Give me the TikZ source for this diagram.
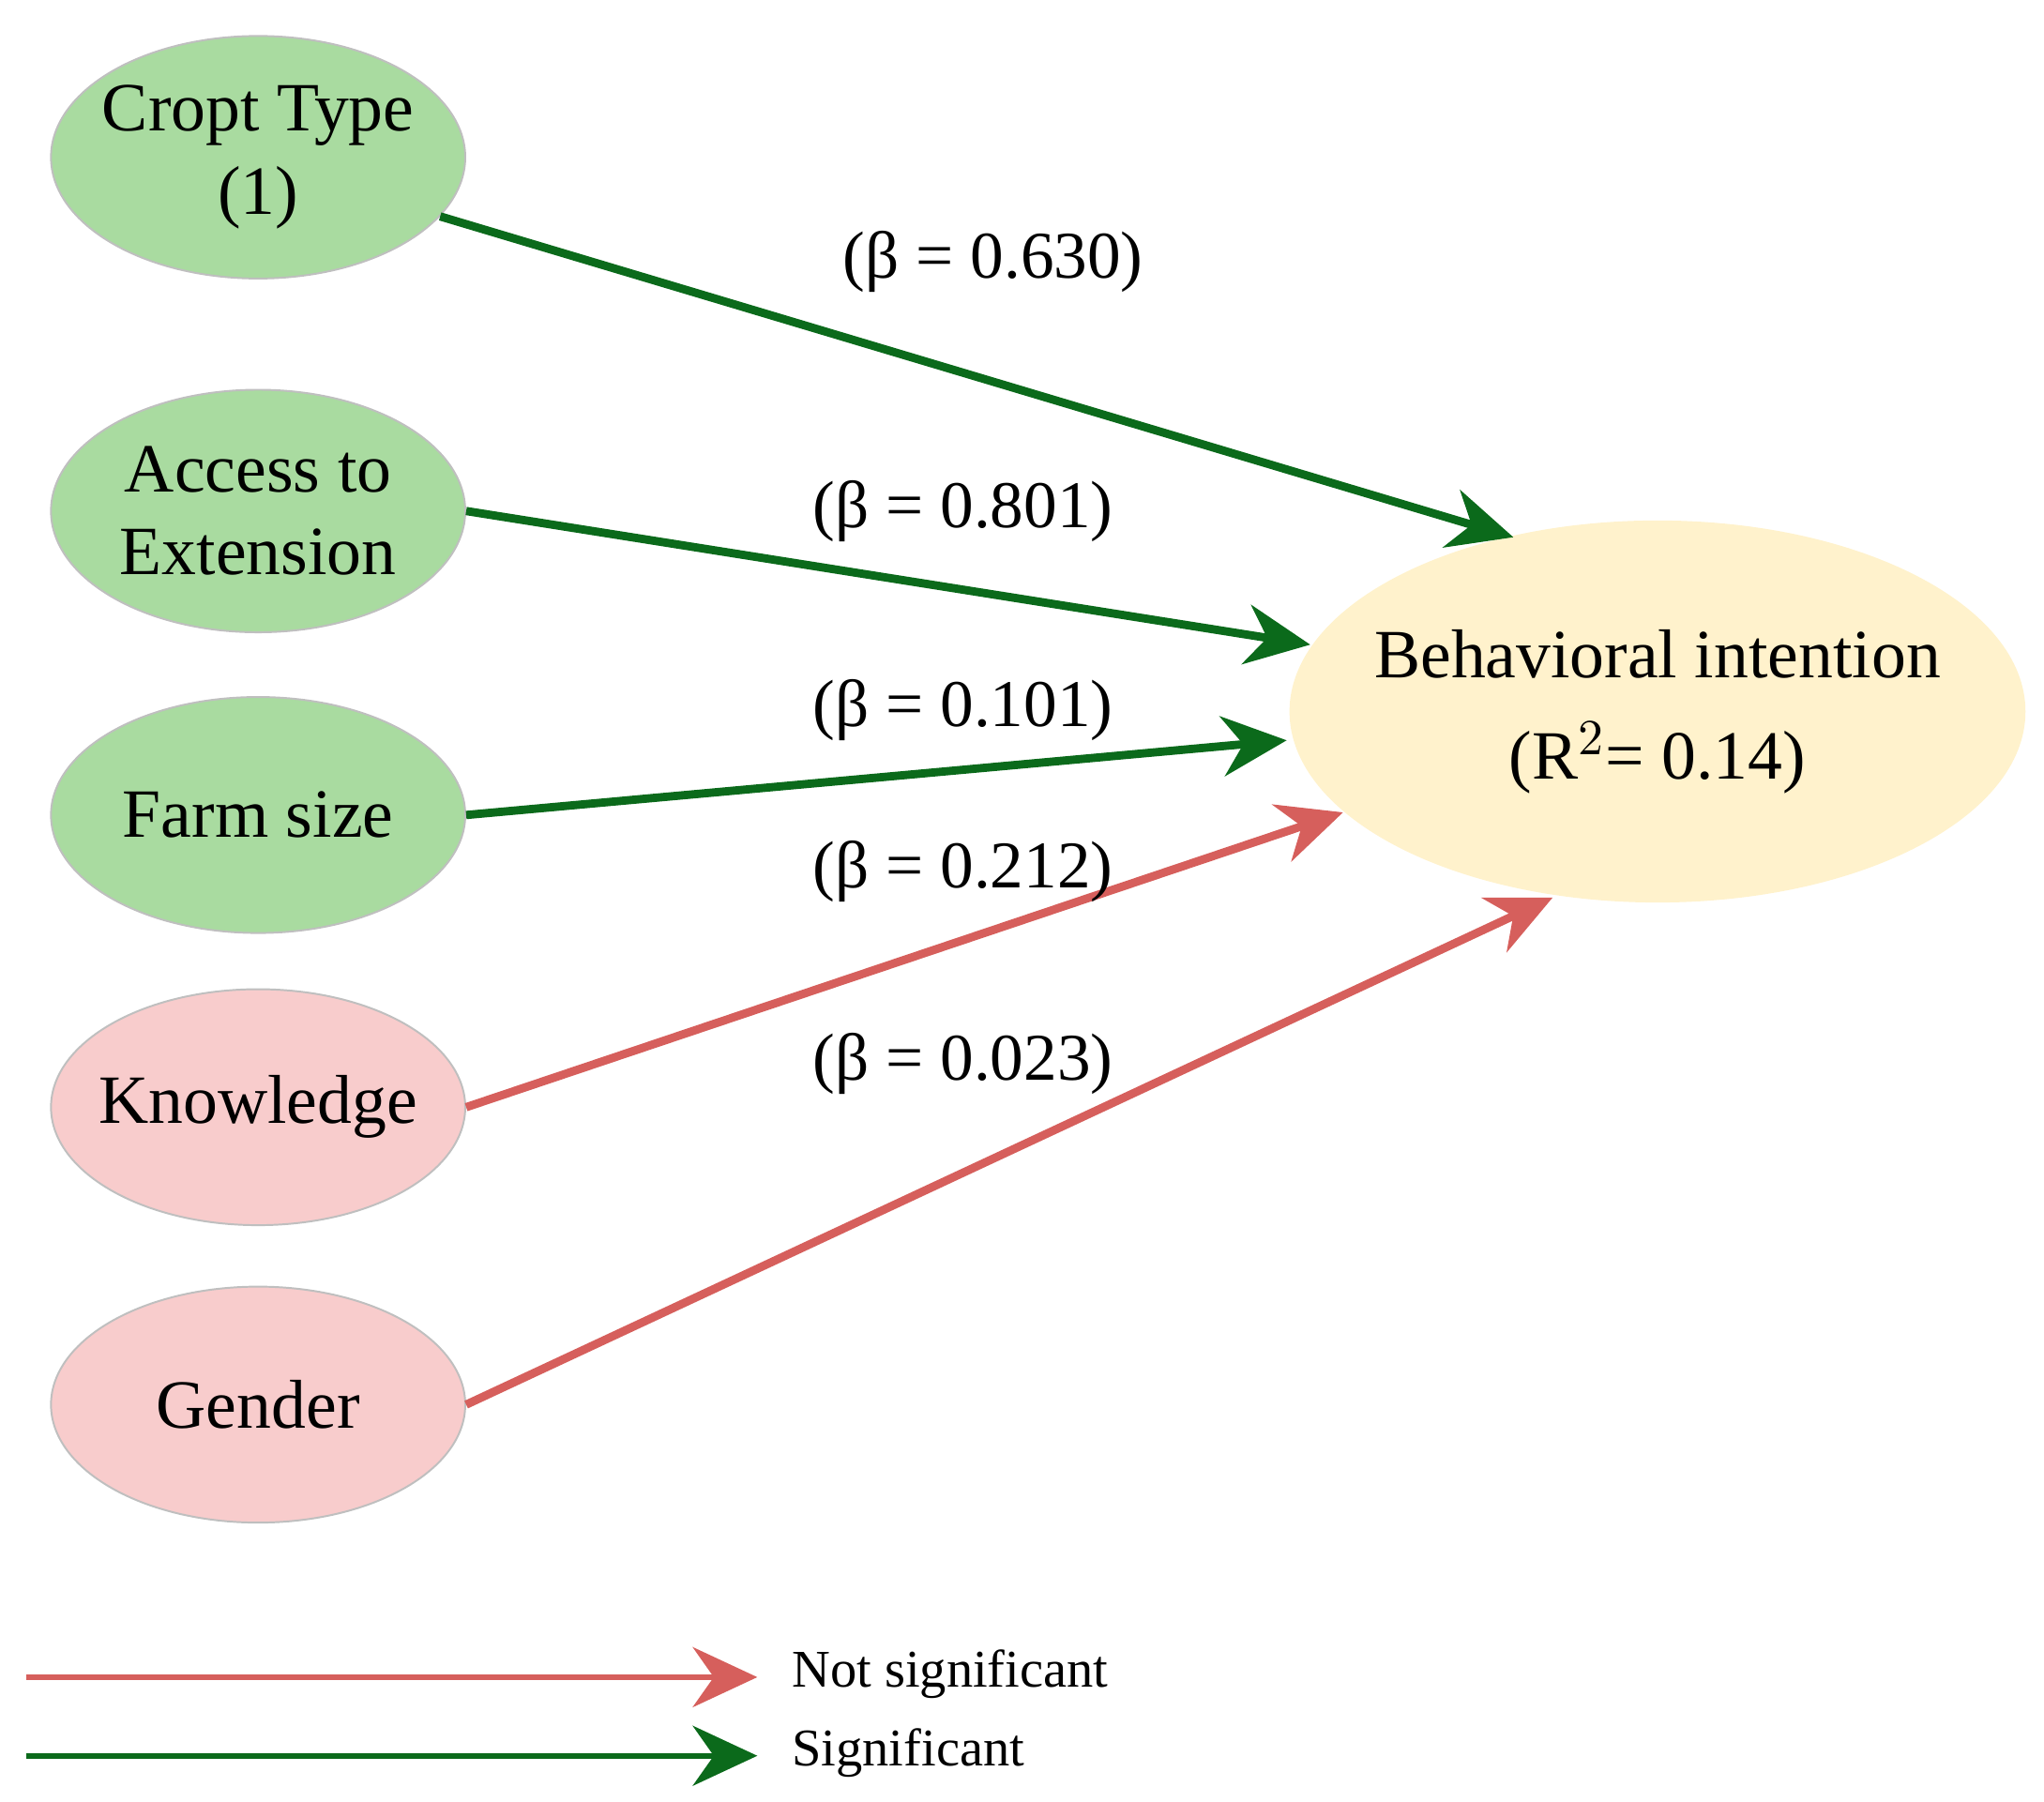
\documentclass[tikz,border=0pt]{standalone}
\usepackage{fontspec}
\setmainfont{Liberation Serif}
\usetikzlibrary{shapes.geometric,arrows.meta}
\definecolor{gfill}{HTML}{A9DBA0}
\definecolor{rfill}{HTML}{F8CCCC}
\definecolor{yfill}{HTML}{FFF2CC}
\definecolor{sig}{HTML}{0B6A1B}
\definecolor{ns}{HTML}{D65F5C}
\begin{document}
\begin{tikzpicture}[x=0.01cm,y=-0.01cm,
  var/.style={ellipse,draw=black!25,minimum width=3.16cm,minimum height=1.85cm,align=center,font=\fontsize{15}{18}\selectfont,inner xsep=-0.6cm,inner ysep=0pt},
  arr/.style={line width=1.8pt,-{Stealth[length=14pt,width=13pt]}},
  lab/.style={font=\fontsize{14.5}{17}\selectfont}]
\useasboundingbox (0,0) rectangle (1560,1375);
\node[var,fill=gfill] (crop) at (197,120) {Cropt Type\\(1)};
\node[var,fill=gfill] (acc) at (197,390) {Access to\\Extension};
\node[var,fill=gfill,minimum height=1.8cm] (farm) at (197,622) {Farm size};
\node[var,fill=rfill,minimum height=1.8cm] (know) at (197,845) {Knowledge};
\node[var,fill=rfill,minimum height=1.8cm] (gen) at (197,1072) {Gender};
\node[ellipse,fill=yfill,draw=yfill,minimum width=5.6cm,minimum height=2.9cm,inner xsep=-1cm,inner ysep=0pt,align=center,font=\fontsize{15}{22}\selectfont] (bi) at (1265,543) {Behavioral intention\\(R$^{2}$= 0.14)};
\coordinate (t1) at (1155,410);
\coordinate (t2) at (1000,492);
\coordinate (t3) at (982,565);
\coordinate (t4) at (1025,620);
\coordinate (t5) at (1185,685);
\draw[arr,sig] (crop.-18) -- (t1);
\draw[arr,sig] (acc.east) -- (t2);
\draw[arr,sig] (farm.east) -- (t3);
\draw[arr,ns] (know.east) -- (t4);
\draw[arr,ns] (gen.east) -- (t5);
\node[lab] (l1) at (758,200) {(β = 0.630)};
\node[lab] (l2) at (735,390) {(β = 0.801)};
\node[lab] (l3) at (735,542) {(β = 0.101)};
\node[lab] (l4) at (735,665) {(β = 0.212)};
\node[lab] (l5) at (735,812) {(β = 0.023)};
\coordinate (a1) at (20,1280); \coordinate (b1) at (578,1280);
\coordinate (a2) at (20,1340); \coordinate (b2) at (578,1340);
\draw[arr,ns,line width=1.3pt] (a1) -- (b1);
\draw[arr,sig,line width=1.3pt] (a2) -- (b2);
\node[anchor=west,font=\fontsize{11.5}{13}\selectfont] (n1) at (592,1278) {Not significant};
\node[anchor=west,font=\fontsize{11.5}{13}\selectfont] (n2) at (592,1338) {Significant};
\end{tikzpicture}
\end{document}
